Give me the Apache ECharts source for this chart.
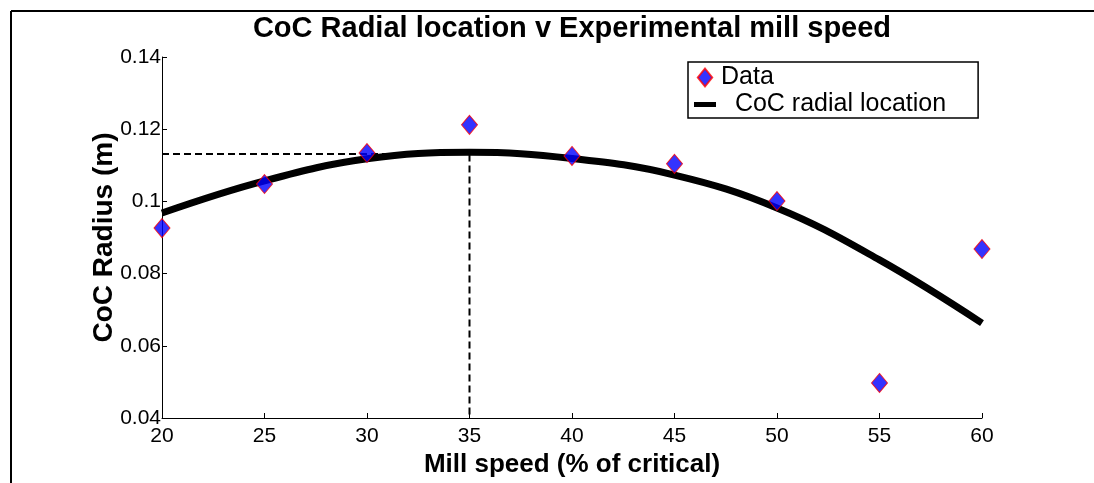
<!DOCTYPE html>
<html>
<head>
<meta charset="utf-8">
<script src="https://cdn.jsdelivr.net/npm/echarts@6/dist/echarts.min.js"></script>
<style>
  html, body { margin: 0; padding: 0; background: #fff; }
  #main { width: 1094px; height: 483px; }
</style>
</head>
<body>
<div id="main"></div>
<script>
// measured points (mill speed %, CoC radius m)
var speeds = [20, 25, 30, 35, 40, 45, 50, 55, 60];
var radius = [0.0926, 0.1048, 0.1134, 0.1212, 0.1126, 0.1104, 0.1001, 0.0497, 0.0868];
// fitted curve
var fitSpeeds = [20, 25, 30, 35, 40, 45, 50, 55, 60];
var fitRadius = [0.0968, 0.1057, 0.1118, 0.1136, 0.1119, 0.1073, 0.0982, 0.0838, 0.0663];
// dashed guide to the maximum
var guideX = [20, 35, 35];
var guideY = [0.1131, 0.1131, 0.04];

var font = '"Liberation Sans", Arial, sans-serif';

var myChart = echarts.init(document.getElementById('main'));

function pairs(xs, ys) {
  var out = [];
  for (var i = 0; i < xs.length; i++) {
    out.push([xs[i], ys[i]]);
  }
  return out;
}

myChart.setOption({
  animation: false,
  backgroundColor: '#fff',
  title: {
    text: 'CoC Radial location v Experimental mill speed',
    left: 567,
    top: 9,
    textAlign: 'center',
    textStyle: { fontFamily: font, fontWeight: 'bold', fontSize: 29, color: '#000' }
  },
  legend: {
    orient: 'vertical',
    left: 688,
    top: 62,
    padding: [3, 32, 1, 6],
    itemGap: 2,
    itemWidth: 22,
    itemHeight: 18,
    borderColor: '#000',
    borderWidth: 1.5,
    textStyle: { fontFamily: font, fontSize: 25, color: '#000' },
    data: [
      { name: 'Data', icon: 'path://M0,-10L8,0L0,10L-8,0Z' },
      { name: 'CoC radial location', icon: 'path://M0,0H22V5H0Z' }
    ],
    formatter: function (name) {
      return name === 'Data' ? name : '  ' + name;
    }
  },
  grid: { left: 162, right: 112, top: 57, bottom: 65 },
  xAxis: {
    type: 'value',
    min: 20,
    max: 60,
    interval: 5,
    name: 'Mill speed (% of critical)',
    nameLocation: 'middle',
    nameGap: 34,
    nameMoveOverlap: false,
    nameTextStyle: { fontFamily: font, fontWeight: 'bold', fontSize: 26, color: '#000' },
    axisLine: { lineStyle: { color: '#000', width: 1 } },
    axisTick: { inside: true, length: 5, lineStyle: { color: '#000' } },
    axisLabel: { fontFamily: font, fontSize: 21, color: '#000', margin: 8 },
    splitLine: { show: false }
  },
  yAxis: {
    type: 'value',
    min: 0.04,
    max: 0.14,
    interval: 0.02,
    name: 'CoC Radius (m)',
    nameLocation: 'middle',
    nameGap: 44,
    nameMoveOverlap: false,
    nameTextStyle: { fontFamily: font, fontWeight: 'bold', fontSize: 28, color: '#000' },
    axisLine: { show: true, lineStyle: { color: '#000', width: 1 } },
    axisTick: { show: true, inside: true, length: 5, lineStyle: { color: '#000' } },
    axisLabel: { fontFamily: font, fontSize: 21, color: '#000', margin: 1, padding: [8, 0, 0, 0] },
    splitLine: { show: false }
  },
  series: [
    {
      name: 'guide',
      type: 'line',
      data: pairs(guideX, guideY),
      symbol: 'none',
      lineStyle: { color: '#000', width: 2, type: [7, 4] },
      z: 1,
      silent: true
    },
    {
      name: 'CoC radial location',
      type: 'line',
      data: pairs(fitSpeeds, fitRadius),
      smooth: 0.4,
      symbol: 'none',
      color: '#000',
      lineStyle: { color: '#000', width: 7 },
      z: 2
    },
    {
      name: 'Data',
      type: 'scatter',
      data: pairs(speeds, radius),
      symbol: 'diamond',
      symbolSize: [16, 19],
      itemStyle: { color: '#0000ff', borderColor: '#ff0000', borderWidth: 1 },
      z: 3
    }
  ],
  graphic: [
    { type: 'line', shape: { x1: 11, y1: 11, x2: 1094, y2: 11 }, style: { stroke: '#000', lineWidth: 2 } },
    { type: 'line', shape: { x1: 11, y1: 11, x2: 11, y2: 483 }, style: { stroke: '#000', lineWidth: 2 } }
  ]
});
</script>
</body>
</html>
